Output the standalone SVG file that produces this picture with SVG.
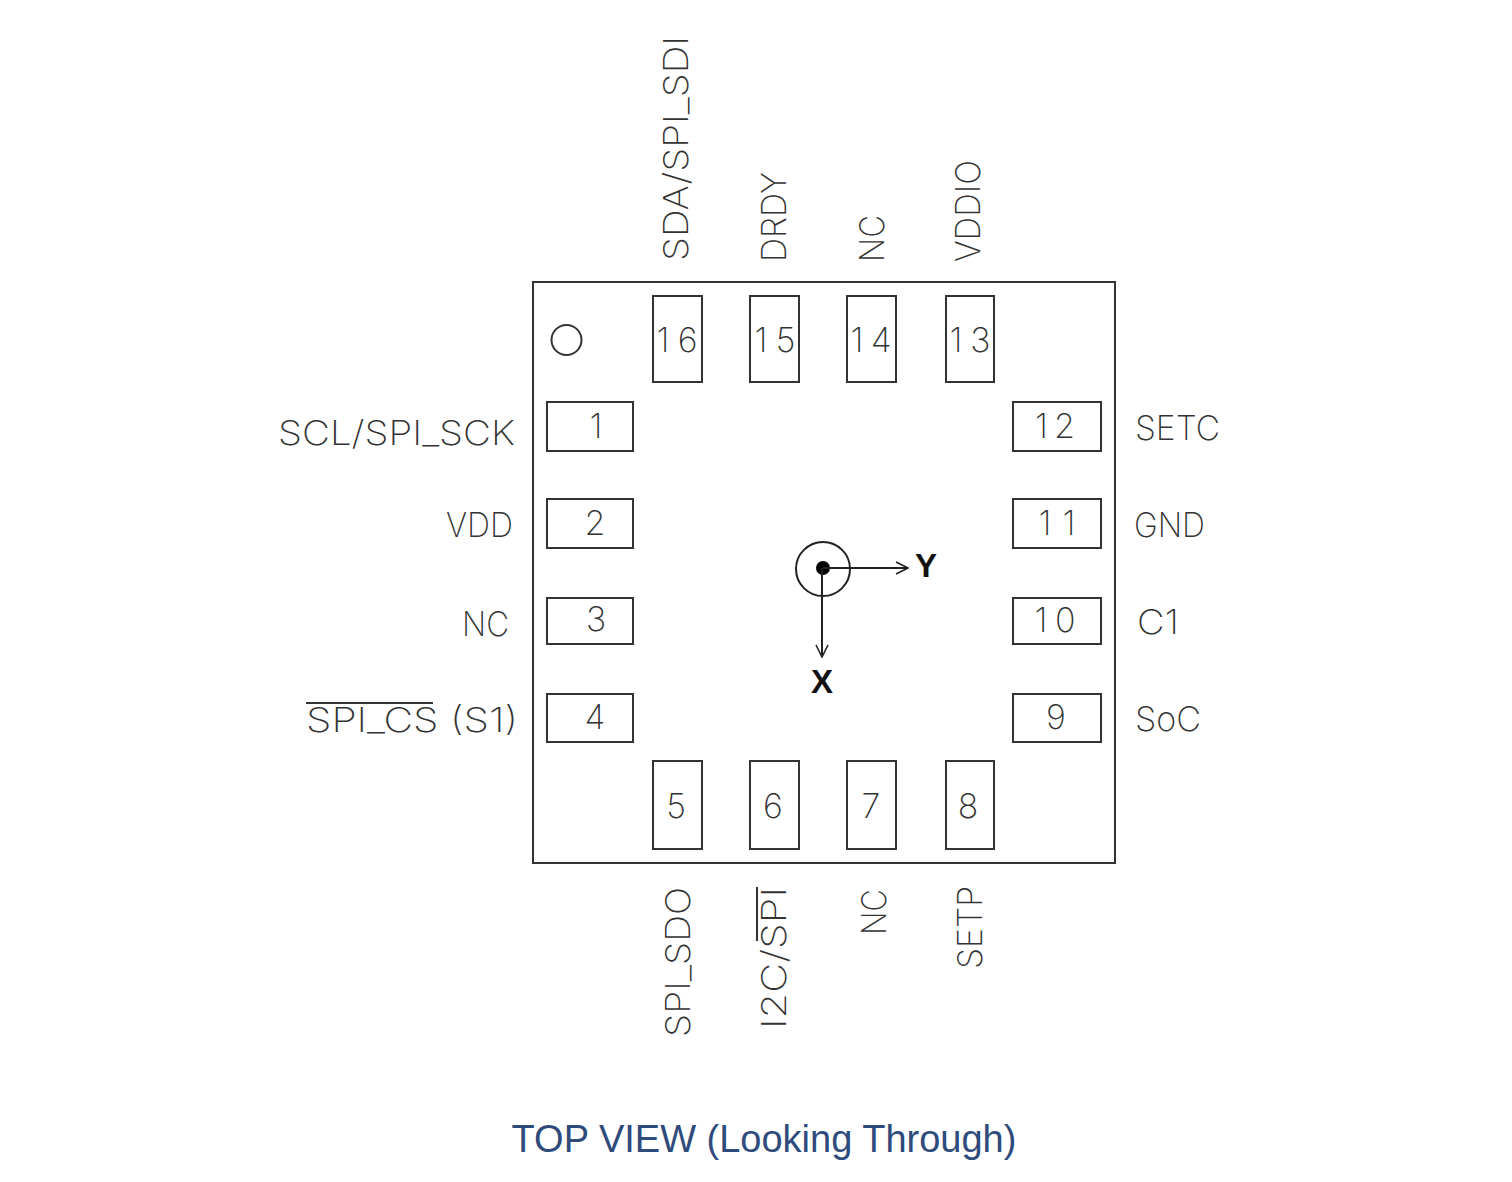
<svg xmlns="http://www.w3.org/2000/svg" width="1512" height="1182" viewBox="0 0 1512 1182">
<style>
.b{fill:#fff;stroke:#333;stroke-width:2}
.l{font-family:"Inter","Liberation Sans",sans-serif;font-weight:200;font-size:34px;fill:#333}
.n{text-anchor:middle}
.o{stroke:#333;stroke-width:2;fill:none}
.x{font-family:"Liberation Sans",sans-serif;font-weight:700;font-size:33px;fill:#111;text-anchor:middle}
.c{stroke:#222;stroke-width:2;fill:none}
</style>
<defs><marker id="a" markerWidth="14" markerHeight="14" refX="13" refY="7" orient="auto" markerUnits="userSpaceOnUse"><path d="M1 1L13 7L1 13" fill="none" stroke="#222" stroke-width="1.6"/></marker></defs>
<rect width="1512" height="1182" fill="#fff"/>
<g id="package"><rect class="b" x="533" y="282" width="582" height="581"/><circle class="o" cx="566.500" cy="340" r="15"/></g>
<g id="pin1"><rect class="b" x="547" y="402" width="86" height="49"/><text class="l n" x="596" y="438">1</text><text class="l" x="278" y="445" textLength="237" lengthAdjust="spacingAndGlyphs">SCL/SPI_SCK</text></g>
<g id="pin2"><rect class="b" x="547" y="499" width="86" height="49"/><text class="l n" x="595" y="535">2</text><text class="l" x="446" y="537" textLength="67" lengthAdjust="spacingAndGlyphs">VDD</text></g>
<g id="pin3"><rect class="b" x="547" y="598" width="86" height="46"/><text class="l n" x="596" y="631">3</text><text class="l" x="462" y="636" textLength="47" lengthAdjust="spacingAndGlyphs">NC</text></g>
<g id="pin4"><rect class="b" x="547" y="694" width="86" height="48"/><text class="l n" x="595" y="729">4</text><text class="l" x="306" y="732" textLength="212" lengthAdjust="spacingAndGlyphs">SPI_CS (S1)</text><line class="o" x1="306" y1="703" x2="433" y2="703"/></g>
<g id="pin5"><rect class="b" x="653" y="761" width="49" height="88"/><text class="l n" x="676" y="818">5</text><text class="l" transform="translate(690 1037) rotate(-90)" textLength="150" lengthAdjust="spacingAndGlyphs">SPI_SDO</text></g>
<g id="pin6"><rect class="b" x="750" y="761" width="49" height="88"/><text class="l n" x="773" y="818">6</text><text class="l" transform="translate(786 1029) rotate(-90)" textLength="142" lengthAdjust="spacingAndGlyphs">I2C/SPI</text><line class="o" x1="757" y1="887" x2="757" y2="941"/></g>
<g id="pin7"><rect class="b" x="847" y="761" width="49" height="88"/><text class="l n" x="871" y="818">7</text><text class="l" transform="translate(886 935) rotate(-90)" textLength="46" lengthAdjust="spacingAndGlyphs">NC</text></g>
<g id="pin8"><rect class="b" x="946" y="761" width="48" height="88"/><text class="l n" x="968" y="818">8</text><text class="l" transform="translate(982 969) rotate(-90)" textLength="83" lengthAdjust="spacingAndGlyphs">SETP</text></g>
<g id="pin9"><rect class="b" x="1013" y="694" width="88" height="48"/><text class="l n" x="1056" y="729">9</text><text class="l" x="1135" y="731" textLength="66" lengthAdjust="spacingAndGlyphs">SoC</text></g>
<g id="pin10"><rect class="b" x="1013" y="598" width="88" height="46"/><text class="l n" x="1055" y="632" textLength="41">10</text><text class="l" x="1137" y="634" textLength="42" lengthAdjust="spacingAndGlyphs">C1</text></g>
<g id="pin11"><rect class="b" x="1013" y="499" width="88" height="49"/><text class="l n" x="1057" y="535" textLength="37">11</text><text class="l" x="1134" y="537" textLength="71" lengthAdjust="spacingAndGlyphs">GND</text></g>
<g id="pin12"><rect class="b" x="1013" y="402" width="88" height="49"/><text class="l n" x="1055" y="438" textLength="40">12</text><text class="l" x="1135" y="440" textLength="85" lengthAdjust="spacingAndGlyphs">SETC</text></g>
<g id="pin13"><rect class="b" x="946" y="296" width="48" height="86"/><text class="l n" x="970" y="352" textLength="41">13</text><text class="l" transform="translate(980 262) rotate(-90)" textLength="102" lengthAdjust="spacingAndGlyphs">VDDIO</text></g>
<g id="pin14"><rect class="b" x="847" y="296" width="49" height="86"/><text class="l n" x="871" y="352" textLength="41">14</text><text class="l" transform="translate(884 262) rotate(-90)" textLength="47" lengthAdjust="spacingAndGlyphs">NC</text></g>
<g id="pin15"><rect class="b" x="750" y="296" width="49" height="86"/><text class="l n" x="775" y="352" textLength="41">15</text><text class="l" transform="translate(786 262) rotate(-90)" textLength="90" lengthAdjust="spacingAndGlyphs">DRDY</text></g>
<g id="pin16"><rect class="b" x="653" y="296" width="49" height="86"/><text class="l n" x="677" y="352" textLength="41">16</text><text class="l" transform="translate(688 261) rotate(-90)" textLength="225" lengthAdjust="spacingAndGlyphs">SDA/SPI_SDI</text></g>
<g id="z-axis"><circle class="c" cx="823" cy="569" r="27"/><circle cx="823" cy="568" r="7" fill="#000"/></g>
<g id="connectors"><line class="c" x1="823" y1="568" x2="908" y2="568" marker-end="url(#a)"/><line class="c" x1="822" y1="568" x2="822" y2="657" marker-end="url(#a)"/></g>
<g id="y-label"><text class="x" x="926" y="577">Y</text></g>
<g id="x-label"><text class="x" x="822" y="693">X</text></g>
<g id="caption"><text x="764" y="1152" text-anchor="middle" font-family="Liberation Sans, Arial, sans-serif" font-size="38" fill="#2f4b7c">TOP VIEW (Looking Through)</text></g>
</svg>
